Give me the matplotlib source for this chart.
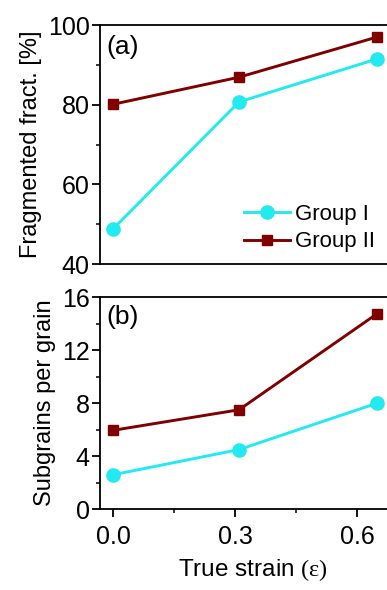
import matplotlib
matplotlib.use("Agg")
import matplotlib.pyplot as plt
from matplotlib.ticker import MultipleLocator

plt.rcParams['font.family'] = ['Liberation Sans', 'DejaVu Sans']
plt.rcParams['mathtext.fontset'] = 'custom'
plt.rcParams['mathtext.rm'] = 'Liberation Serif'

# true strain for the three deformation states
strain = [0.0, 0.31, 0.65]

# fragmented fraction, %
frag_g1 = [48.8, 80.7, 91.5]
frag_g2 = [80.1, 86.9, 97.0]

# subgrains per grain
sub_g1 = [2.6, 4.5, 8.0]
sub_g2 = [5.95, 7.5, 14.75]

labels = ['Group I', 'Group II']
cyan = '#22eaf0'
darkred = '#800000'

fig = plt.figure(figsize=(3.87, 5.90), dpi=100)
ax1 = fig.add_axes([0.2584, 0.5525, 0.79, 0.4051])
ax2 = fig.add_axes([0.2584, 0.1368, 0.79, 0.3598])

for ax in (ax1, ax2):
    ax.set_xlim(-0.032, 0.72)
    ax.xaxis.set_major_locator(MultipleLocator(0.3))
    ax.xaxis.set_minor_locator(MultipleLocator(0.15))
    ax.tick_params(which='major', direction='out', length=6, width=1.3,
                   labelsize=18, pad=1.5)
    ax.tick_params(which='minor', direction='out', length=2.8, width=1.1)
    ax.tick_params(top=False, right=False)
    for sp in ax.spines.values():
        sp.set_linewidth(1.3)

style1 = dict(color=cyan, lw=2.1, marker='o', ms=9.5, mec=cyan, mfc=cyan)
style2 = dict(color=darkred, lw=2.1, marker='s', ms=7.2, mec=darkred, mfc=darkred)

ax1.plot(strain, frag_g1, label=labels[0], **style1)
ax1.plot(strain, frag_g2, label=labels[1], **style2)
ax1.set_ylim(40, 100)
ax1.yaxis.set_major_locator(MultipleLocator(20))
ax1.yaxis.set_minor_locator(MultipleLocator(10))
ax1.tick_params(axis='x', which='both', labelbottom=False, length=0)
ax1.set_ylabel('Fragmented fract. [%]', fontsize=17, labelpad=4)
ax1.text(0.02, 0.96, '(a)', transform=ax1.transAxes, fontsize=19, va='top')
ax1.legend(loc='lower left', bbox_to_anchor=(0.405, -0.035), frameon=False,
           fontsize=16, handlelength=2.1, handletextpad=0.2, labelspacing=0.3)

ax2.plot(strain, sub_g1, **style1)
ax2.plot(strain, sub_g2, **style2)
ax2.set_ylim(0, 16)
ax2.yaxis.set_major_locator(MultipleLocator(4))
ax2.yaxis.set_minor_locator(MultipleLocator(2))
ax2.xaxis.set_major_formatter(plt.FormatStrFormatter('%.1f'))
ax2.tick_params(axis='x', pad=5)
ax2.set_ylabel('Subgrains per grain', fontsize=17, labelpad=4)
ax2.set_xlabel(r'True strain $\mathrm{(\varepsilon)}$', fontsize=17.5, labelpad=6)
ax2.text(0.02, 0.96, '(b)', transform=ax2.transAxes, fontsize=19, va='top')

fig.savefig('out.png', dpi=100)
